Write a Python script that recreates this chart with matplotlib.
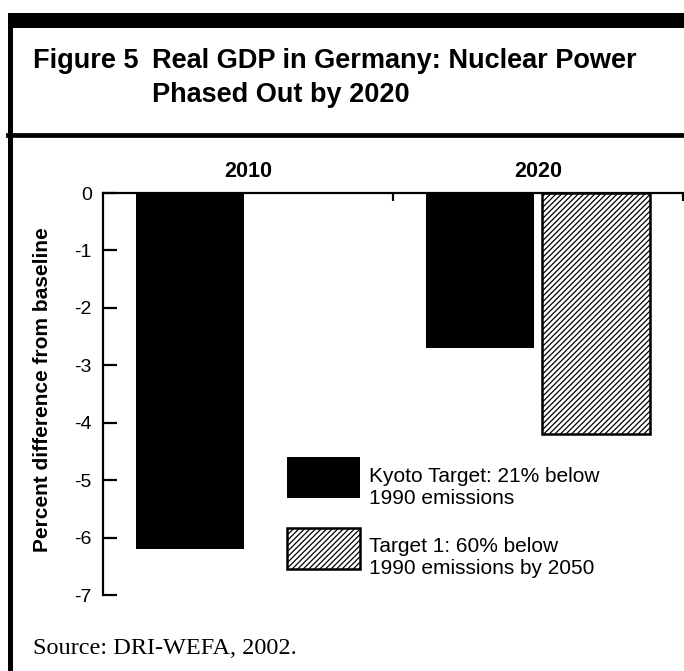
import numpy as np
import matplotlib.pyplot as plt
from matplotlib.patches import Rectangle
from matplotlib.lines import Line2D

plt.rcParams['font.family'] = ['Liberation Sans', 'DejaVu Sans']
plt.rcParams['hatch.linewidth'] = 0.9

# GDP impact, percent difference from baseline
years = ['2010', '2020']
kyoto = [-6.2, -2.7]
target1 = [np.nan, -4.2]   # no 2010 run for Target 1
yticks = [0, -1, -2, -3, -4, -5, -6, -7]

W, H = 684, 671
fig = plt.figure(figsize=(W / 100, H / 100), dpi=100)


def fx(px):
    return px / W


def fy(py):
    return 1 - py / H


# frame: heavy rule on top, rule under the title, left border
fig.add_artist(Rectangle((fx(8), fy(28)), 1, 15 / H, transform=fig.transFigure,
                         color='black', lw=0))
fig.add_artist(Rectangle((fx(8), 0), 5 / W, 1 - 13 / H, transform=fig.transFigure,
                         color='black', lw=0))
fig.add_artist(Line2D([fx(8), 1], [fy(134.5)] * 2, transform=fig.transFigure,
                      color='black', lw=3.4))

fig.text(fx(33), fy(68), 'Figure 5', fontsize=19.5, fontweight='bold', va='baseline')
fig.text(fx(152), fy(68), 'Real GDP in Germany: Nuclear Power', fontsize=19.5,
         fontweight='bold', va='baseline')
fig.text(fx(152), fy(102), 'Phased Out by 2020', fontsize=19.5,
         fontweight='bold', va='baseline')

ax_w = 580 / W
ax = fig.add_axes([fx(103), fy(595), ax_w, 402 / H])
x = np.arange(len(years))
w = 0.37
ax.bar(x - 0.2, kyoto, w, color='black', edgecolor='black', lw=0)
ax.bar(x + 0.2, target1, w, color='white', edgecolor='black', lw=1.8, hatch='//////')

ax.set_xlim(-0.5, 1.5)
ax.set_ylim(-7, 0)
ax.set_yticks(yticks)
ax.set_yticklabels([str(t) for t in yticks])
ax.tick_params(axis='y', direction='in', length=10, width=1.6, labelsize=14, pad=8)

# group separators along the zero line, year labels above
ax.xaxis.tick_top()
ax.set_xticks([0.5, 1.5])
ax.set_xticklabels([])
ax.set_xticks(x, minor=True)
ax.set_xticklabels(years, minor=True, fontsize=15.5, fontweight='bold')
ax.tick_params(axis='x', which='major', direction='in', length=6, width=1.6)
ax.tick_params(axis='x', which='minor', length=0, pad=8)

for side in ['bottom', 'right']:
    ax.spines[side].set_visible(False)
for side in ['top', 'left']:
    ax.spines[side].set_linewidth(1.6)
ax.spines['top'].set_bounds(-0.5, 1.6)
ax.spines['top'].set_clip_on(False)

ax.set_ylabel('Percent difference from baseline', fontsize=15, fontweight='bold')
ax.yaxis.set_label_coords((52 - 103) / 580, 0.51)

# legend drawn by hand as two swatches with wrapped text
leg_x = fx(287)
leg_w = 73 / W
fig.add_artist(Rectangle((leg_x, fy(498)), leg_w, 41 / H, transform=fig.transFigure,
                         facecolor='black', edgecolor='black', lw=0))
fig.add_artist(Rectangle((leg_x, fy(569)), leg_w, 41 / H, transform=fig.transFigure,
                         facecolor='white', edgecolor='black', lw=1.8, hatch='//////'))
fig.text(fx(369), fy(488), 'Kyoto Target: 21% below\n1990 emissions', fontsize=15,
         va='center', linespacing=1.2)
fig.text(fx(369), fy(558), 'Target 1: 60% below\n1990 emissions by 2050', fontsize=15,
         va='center', linespacing=1.2)

fig.text(fx(33), fy(648), 'Source: DRI-WEFA, 2002.', fontsize=17.5,
         family=['Liberation Serif', 'DejaVu Serif'], va='center')

fig.savefig('out.png', dpi=100)
